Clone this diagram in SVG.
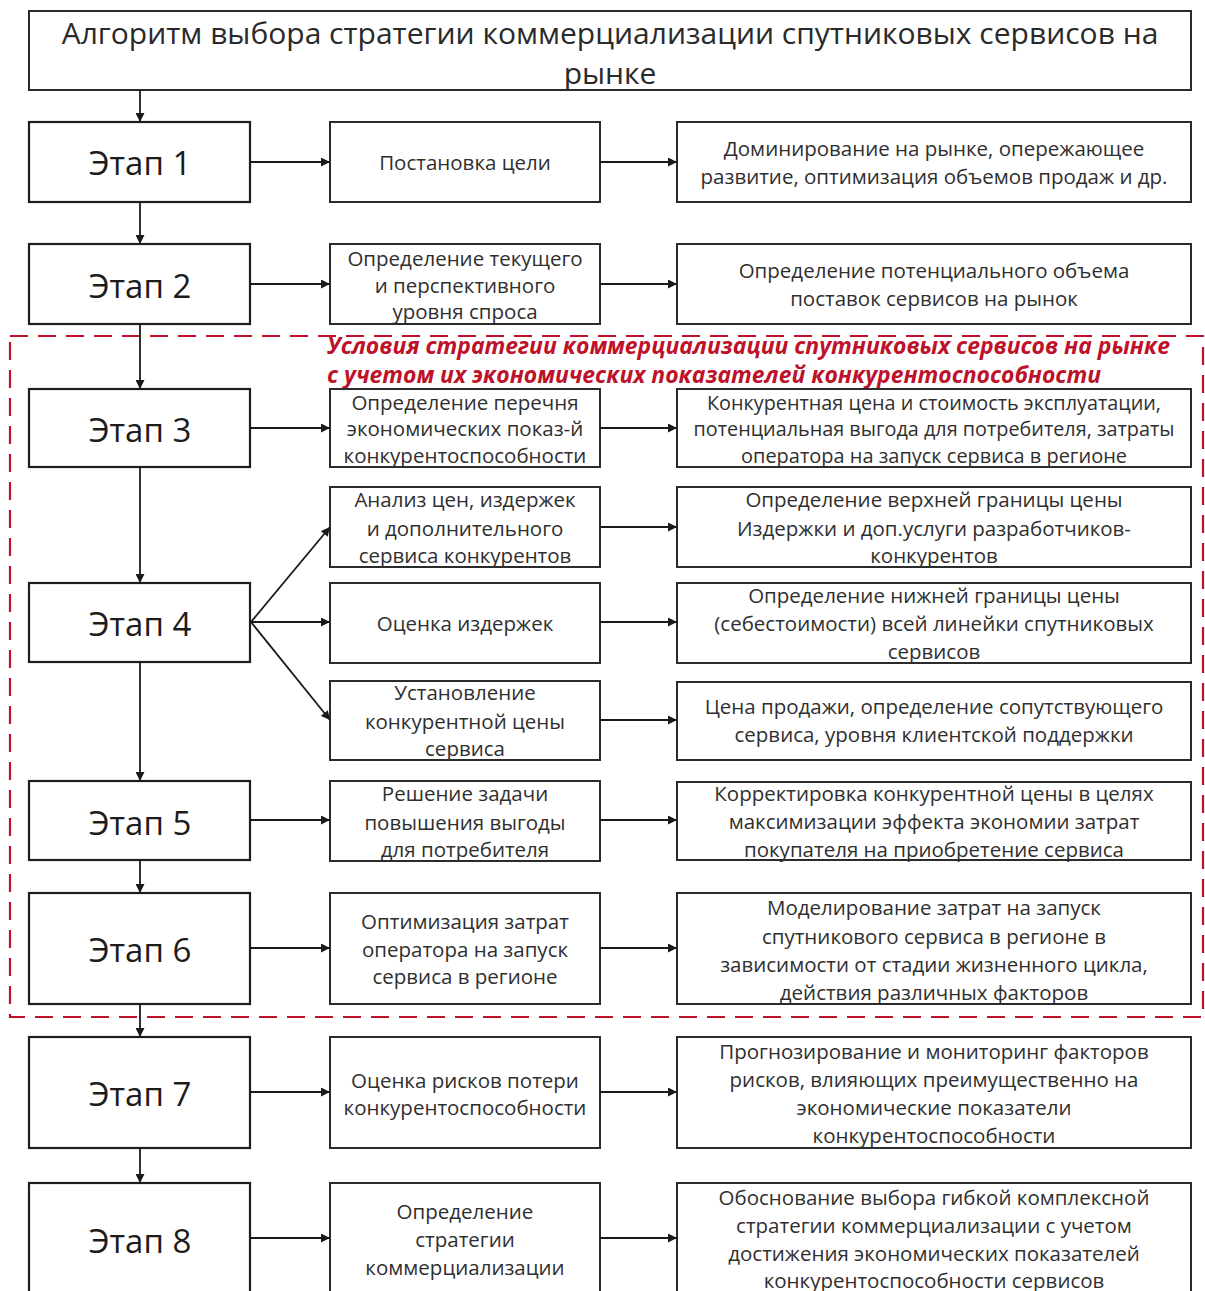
<svg xmlns="http://www.w3.org/2000/svg" width="1205" height="1291" viewBox="0 0 1205 1291">
  <style>
    .box { fill: #ffffff; stroke: #2b2b2b; stroke-width: 2; }
    .stage { fill: #ffffff; stroke: #1e1e1e; stroke-width: 2.2; }
    .t { font-family: "Open Sans", "Liberation Sans", sans-serif; fill: #2f2f2f; text-anchor: middle; dominant-baseline: central; }
    .sm { font-size: 20.5px; }
    .st { font-size: 33px; fill: #1c1c1c; }
    .ttl { font-size: 30px; fill: #2a2a2a; }
    .red { font-family: "Open Sans", "Liberation Sans", sans-serif; font-size: 22.5px; font-weight: bold; font-style: italic; fill: #bd1229; }
    .ln { stroke: #1a1a1a; stroke-width: 1.8; fill: none; marker-end: url(#ah); }
  </style>
  <defs>
    <marker id="ah" viewBox="0 0 10 10" refX="10" refY="5" markerWidth="10" markerHeight="9" markerUnits="userSpaceOnUse" orient="auto">
      <path d="M0,0 L10,5 L0,10 z" fill="#1a1a1a"/>
    </marker>
  </defs>

  <rect width="1205" height="1291" fill="#ffffff"/>

  <!-- dashed frame for stages 3–6 -->
  <g id="conditions-frame">
    <rect x="10" y="336" width="1193" height="681" fill="none" stroke="#bd1229" stroke-width="2.2" stroke-dasharray="18 10"/>
    <text class="red" x="327" y="345" dominant-baseline="central" textLength="843" lengthAdjust="spacingAndGlyphs">Условия стратегии коммерциализации спутниковых сервисов на рынке</text>
    <text class="red" x="327" y="374" dominant-baseline="central" textLength="774" lengthAdjust="spacingAndGlyphs">с учетом их экономических показателей конкурентоспособности</text>
  </g>

  <!-- title -->
  <g id="title">
    <rect class="box" x="29" y="11" width="1162" height="79"/>
    <text class="t ttl" x="610" y="32">Алгоритм выбора стратегии коммерциализации спутниковых сервисов на</text>
    <text class="t ttl" x="610" y="72">рынке</text>
  </g>

  <!-- stages -->
  <g id="stage1"><rect class="stage" x="29" y="122" width="221" height="80"/><text class="t st" x="140" y="162">Этап 1</text></g>
  <g id="stage2"><rect class="stage" x="29" y="244" width="221" height="80"/><text class="t st" x="140" y="285">Этап 2</text></g>
  <g id="stage3"><rect class="stage" x="29" y="389" width="221" height="78"/><text class="t st" x="140" y="429">Этап 3</text></g>
  <g id="stage4"><rect class="stage" x="29" y="583" width="221" height="79"/><text class="t st" x="140" y="623">Этап 4</text></g>
  <g id="stage5"><rect class="stage" x="29" y="781" width="221" height="79"/><text class="t st" x="140" y="822">Этап 5</text></g>
  <g id="stage6"><rect class="stage" x="29" y="893" width="221" height="111"/><text class="t st" x="140" y="949">Этап 6</text></g>
  <g id="stage7"><rect class="stage" x="29" y="1037" width="221" height="111"/><text class="t st" x="140" y="1093">Этап 7</text></g>
  <g id="stage8"><rect class="stage" x="29" y="1183" width="221" height="120"/><text class="t st" x="140" y="1240">Этап 8</text></g>

  <!-- actions -->
  <g id="act1"><rect class="box" x="330" y="122" width="270" height="80"/>
    <text class="t sm" x="465" y="162">Постановка цели</text></g>
  <g id="act2"><rect class="box" x="330" y="244" width="270" height="80"/>
    <text class="t sm" x="465" y="258">Определение текущего</text>
    <text class="t sm" x="465" y="285">и перспективного</text>
    <text class="t sm" x="465" y="311">уровня спроса</text></g>
  <g id="act3"><rect class="box" x="330" y="389" width="270" height="78"/>
    <text class="t sm" x="465" y="402">Определение перечня</text>
    <text class="t sm" x="465" y="428">экономических показ-й</text>
    <text class="t sm" x="465" y="455">конкурентоспособности</text></g>
  <g id="act4a"><rect class="box" x="330" y="487" width="270" height="80"/>
    <text class="t sm" x="465" y="499">Анализ цен, издержек</text>
    <text class="t sm" x="465" y="528">и дополнительного</text>
    <text class="t sm" x="465" y="555">сервиса конкурентов</text></g>
  <g id="act4b"><rect class="box" x="330" y="583" width="270" height="80"/>
    <text class="t sm" x="465" y="623">Оценка издержек</text></g>
  <g id="act4c"><rect class="box" x="330" y="681" width="270" height="79"/>
    <text class="t sm" x="465" y="692">Установление</text>
    <text class="t sm" x="465" y="721">конкурентной цены</text>
    <text class="t sm" x="465" y="748">сервиса</text></g>
  <g id="act5"><rect class="box" x="330" y="781" width="270" height="80"/>
    <text class="t sm" x="465" y="793">Решение задачи</text>
    <text class="t sm" x="465" y="822">повышения выгоды</text>
    <text class="t sm" x="465" y="849">для потребителя</text></g>
  <g id="act6"><rect class="box" x="330" y="893" width="270" height="111"/>
    <text class="t sm" x="465" y="921">Оптимизация затрат</text>
    <text class="t sm" x="465" y="949">оператора на запуск</text>
    <text class="t sm" x="465" y="976">сервиса в регионе</text></g>
  <g id="act7"><rect class="box" x="330" y="1037" width="270" height="111"/>
    <text class="t sm" x="465" y="1080">Оценка рисков потери</text>
    <text class="t sm" x="465" y="1107">конкурентоспособности</text></g>
  <g id="act8"><rect class="box" x="330" y="1183" width="270" height="120"/>
    <text class="t sm" x="465" y="1211">Определение</text>
    <text class="t sm" x="465" y="1239">стратегии</text>
    <text class="t sm" x="465" y="1267">коммерциализации</text></g>

  <!-- results -->
  <g id="res1"><rect class="box" x="677" y="122" width="514" height="80"/>
    <text class="t sm" x="934" y="148">Доминирование на рынке, опережающее</text>
    <text class="t sm" x="934" y="176">развитие, оптимизация объемов продаж и др.</text></g>
  <g id="res2"><rect class="box" x="677" y="244" width="514" height="80"/>
    <text class="t sm" x="934" y="270">Определение потенциального объема</text>
    <text class="t sm" x="934" y="298">поставок сервисов на рынок</text></g>
  <g id="res3"><rect class="box" x="677" y="389" width="514" height="78"/>
    <text class="t sm" x="934" y="402" textLength="454" lengthAdjust="spacingAndGlyphs">Конкурентная цена и стоимость эксплуатации,</text>
    <text class="t sm" x="934" y="428" textLength="481" lengthAdjust="spacingAndGlyphs">потенциальная выгода для потребителя, затраты</text>
    <text class="t sm" x="934" y="455" textLength="386" lengthAdjust="spacingAndGlyphs">оператора на запуск сервиса в регионе</text></g>
  <g id="res4a"><rect class="box" x="677" y="487" width="514" height="80"/>
    <text class="t sm" x="934" y="499">Определение верхней границы цены</text>
    <text class="t sm" x="934" y="528">Издержки и доп.услуги разработчиков-</text>
    <text class="t sm" x="934" y="555">конкурентов</text></g>
  <g id="res4b"><rect class="box" x="677" y="583" width="514" height="80"/>
    <text class="t sm" x="934" y="595">Определение нижней границы цены</text>
    <text class="t sm" x="934" y="623">(себестоимости) всей линейки спутниковых</text>
    <text class="t sm" x="934" y="651">сервисов</text></g>
  <g id="res4c"><rect class="box" x="677" y="682" width="514" height="78"/>
    <text class="t sm" x="934" y="706">Цена продажи, определение сопутствующего</text>
    <text class="t sm" x="934" y="734">сервиса, уровня клиентской поддержки</text></g>
  <g id="res5"><rect class="box" x="677" y="782" width="514" height="78"/>
    <text class="t sm" x="934" y="793">Корректировка конкурентной цены в целях</text>
    <text class="t sm" x="934" y="821">максимизации эффекта экономии затрат</text>
    <text class="t sm" x="934" y="849">покупателя на приобретение сервиса</text></g>
  <g id="res6"><rect class="box" x="677" y="893" width="514" height="111"/>
    <text class="t sm" x="934" y="907">Моделирование затрат на запуск</text>
    <text class="t sm" x="934" y="936">спутникового сервиса в регионе в</text>
    <text class="t sm" x="934" y="964">зависимости от стадии жизненного цикла,</text>
    <text class="t sm" x="934" y="992">действия различных факторов</text></g>
  <g id="res7"><rect class="box" x="677" y="1037" width="514" height="111"/>
    <text class="t sm" x="934" y="1051">Прогнозирование и мониторинг факторов</text>
    <text class="t sm" x="934" y="1079">рисков, влияющих преимущественно на</text>
    <text class="t sm" x="934" y="1107">экономические показатели</text>
    <text class="t sm" x="934" y="1135">конкурентоспособности</text></g>
  <g id="res8"><rect class="box" x="677" y="1183" width="514" height="120"/>
    <text class="t sm" x="934" y="1197">Обоснование выбора гибкой комплексной</text>
    <text class="t sm" x="934" y="1225">стратегии коммерциализации с учетом</text>
    <text class="t sm" x="934" y="1253">достижения экономических показателей</text>
    <text class="t sm" x="934" y="1280">конкурентоспособности сервисов</text></g>

  <!-- connectors -->
  <g id="connectors">
    <line class="ln" x1="140" y1="90" x2="140" y2="122"/>
    <line class="ln" x1="140" y1="202" x2="140" y2="244"/>
    <line class="ln" x1="140" y1="324" x2="140" y2="389"/>
    <line class="ln" x1="140" y1="467" x2="140" y2="583"/>
    <line class="ln" x1="140" y1="662" x2="140" y2="781"/>
    <line class="ln" x1="140" y1="860" x2="140" y2="893"/>
    <line class="ln" x1="140" y1="1004" x2="140" y2="1037"/>
    <line class="ln" x1="140" y1="1148" x2="140" y2="1183"/>

    <line class="ln" x1="250" y1="162" x2="330" y2="162"/>
    <line class="ln" x1="250" y1="284" x2="330" y2="284"/>
    <line class="ln" x1="250" y1="428" x2="330" y2="428"/>
    <line class="ln" x1="251" y1="622" x2="330" y2="527"/>
    <line class="ln" x1="251" y1="622" x2="330" y2="622"/>
    <line class="ln" x1="251" y1="622" x2="330" y2="720"/>
    <line class="ln" x1="250" y1="820" x2="330" y2="820"/>
    <line class="ln" x1="250" y1="948" x2="330" y2="948"/>
    <line class="ln" x1="250" y1="1092" x2="330" y2="1092"/>
    <line class="ln" x1="250" y1="1238" x2="330" y2="1238"/>

    <line class="ln" x1="600" y1="162" x2="677" y2="162"/>
    <line class="ln" x1="600" y1="284" x2="677" y2="284"/>
    <line class="ln" x1="600" y1="428" x2="677" y2="428"/>
    <line class="ln" x1="600" y1="527" x2="677" y2="527"/>
    <line class="ln" x1="600" y1="622" x2="677" y2="622"/>
    <line class="ln" x1="600" y1="720" x2="677" y2="720"/>
    <line class="ln" x1="600" y1="820" x2="677" y2="820"/>
    <line class="ln" x1="600" y1="948" x2="677" y2="948"/>
    <line class="ln" x1="600" y1="1092" x2="677" y2="1092"/>
    <line class="ln" x1="600" y1="1238" x2="677" y2="1238"/>
  </g>
</svg>
